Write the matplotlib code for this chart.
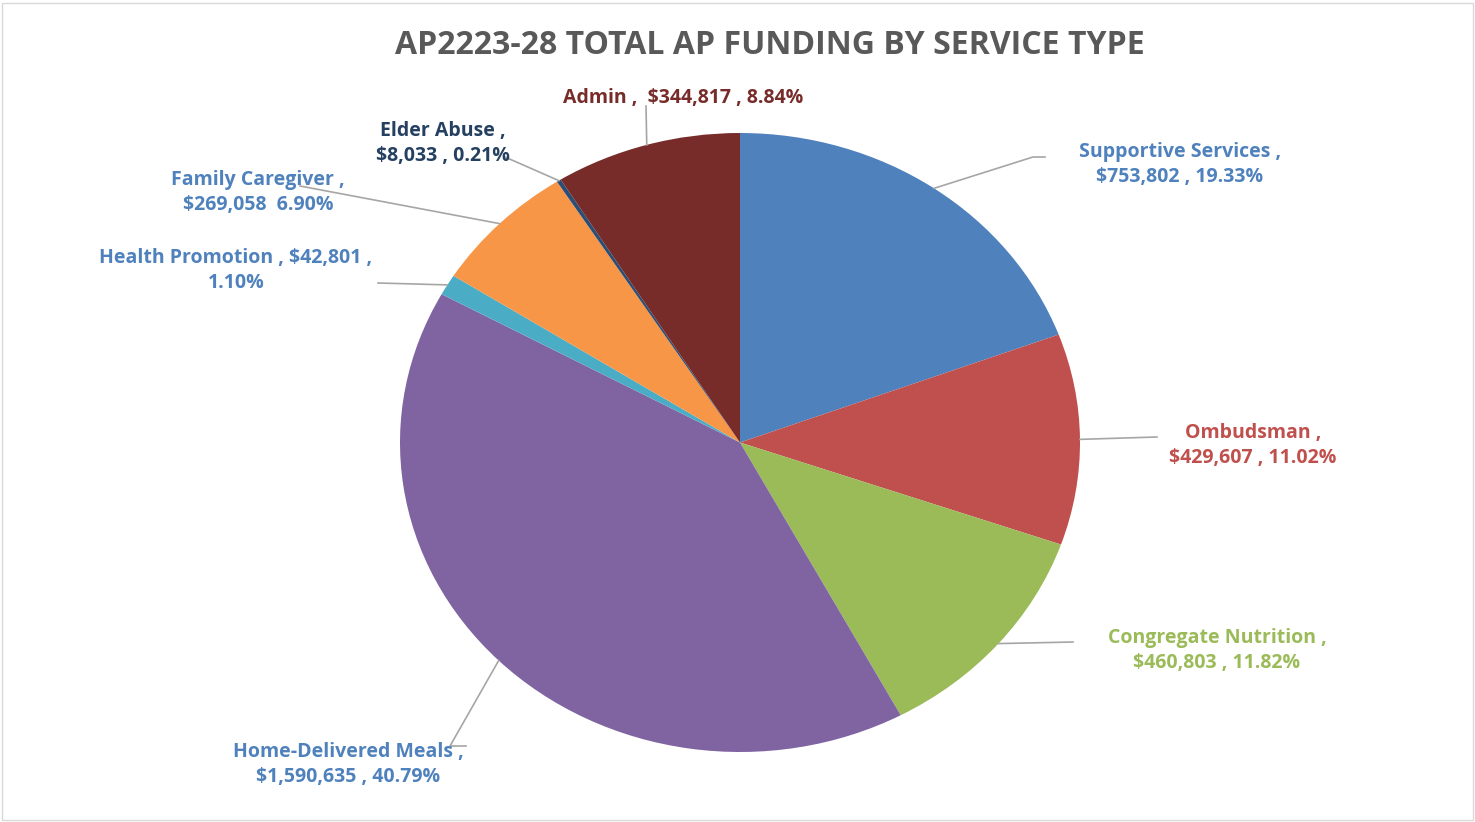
import numpy as np
import matplotlib.pyplot as plt
from matplotlib.lines import Line2D
from matplotlib.patches import Rectangle

# AP funding by service type (clockwise from 12 o'clock)
services = ["Supportive Services", "Ombudsman", "Congregate Nutrition",
            "Home-Delivered Meals", "Health Promotion", "Family Caregiver",
            "Elder Abuse", "Admin"]
amounts = [753802, 429607, 460803, 1590635, 42801, 269058, 8033, 344817]

wedge_colors = ['#4F81BD', '#C0504D', '#9BBB59', '#8064A2',
                '#4BACC6', '#F79646', '#2C4D75', '#772C2A']
label_colors = ['#4F81BD', '#C0504D', '#9BBB59', '#4F81BD',
                '#4F81BD', '#4F81BD', '#254061', '#772C2A']

total = sum(amounts)
pcts = [100.0 * a / total for a in amounts]
money = ["${:,}".format(a) for a in amounts]

# label text lines, as they are broken in the chart
label_lines = [
    [services[0] + " ,", money[0] + " , %.2f%%" % pcts[0]],
    [services[1] + " ,", money[1] + " , %.2f%%" % pcts[1]],
    [services[2] + " ,", money[2] + " , %.2f%%" % pcts[2]],
    [services[3] + " ,", money[3] + " , %.2f%%" % pcts[3]],
    [services[4] + " , " + money[4] + " ,", "%.2f%%" % pcts[4]],
    [services[5] + " ,", money[5] + "  %.2f%%" % pcts[5]],
    [services[6] + " ,", money[6] + " , %.2f%%" % pcts[6]],
    [services[7] + " ,  " + money[7] + " , %.2f%%" % pcts[7]],
]

# layout (figure pixels, y from top)
W, H = 1475, 822
label_xy = [(1180, 152), (1253, 433), (1217, 638), (348, 752),
            (236, 258), (258, 180), (443, 131), (683, 98)]
leader_ends = [[(1033, 157), (1045, 157)], [(1157, 437)], [(1073, 642)],
               [(450, 746), (466, 746)], [(378, 283)], [(300, 186)],
               [(505, 157)], [(646, 106)]]
line_gap = 25

fig = plt.figure(figsize=(W / 100, H / 100), dpi=100)


def fpos(x, y):
    return x / W, 1 - y / H


ax = fig.add_axes([400 / W, 70 / H, 680 / W, 619 / H])
wedges, _ = ax.pie(amounts, colors=wedge_colors, startangle=90,
                   counterclock=False, radius=1,
                   wedgeprops=dict(linewidth=0))
ax.set_aspect('auto')
ax.set_xlim(-1, 1)
ax.set_ylim(-1, 1)
ax.axis('off')

font = dict(family=['Open Sans', 'DejaVu Sans'], fontweight='bold', fontsize=14)

to_fig = fig.transFigure.inverted()
for i, w in enumerate(wedges):
    mid = np.deg2rad((w.theta1 + w.theta2) / 2)
    start = ax.transData.transform((np.cos(mid), np.sin(mid)))
    start = to_fig.transform(start)
    pts = [tuple(start)] + [fpos(*p) for p in leader_ends[i]]
    xs, ys = zip(*pts)
    fig.add_artist(Line2D(xs, ys, color='#A6A6A6', lw=1.2,
                          transform=fig.transFigure))
    lx, ly = label_xy[i]
    for k, txt in enumerate(label_lines[i]):
        fig.text(*fpos(lx, ly + k * line_gap), txt, ha='center', va='center',
                 color=label_colors[i], **font)

fig.text(*fpos(770, 45), "AP2223-28 TOTAL AP FUNDING BY SERVICE TYPE",
         ha='center', va='center', color='#595959', fontsize=23,
         fontweight='bold', family=['Open Sans', 'DejaVu Sans'])

fig.add_artist(Rectangle((0.0015, 0.002), 0.997, 0.994, fill=False,
                         edgecolor='#D9D9D9', lw=1, transform=fig.transFigure))

fig.savefig('out.png', dpi=100)
